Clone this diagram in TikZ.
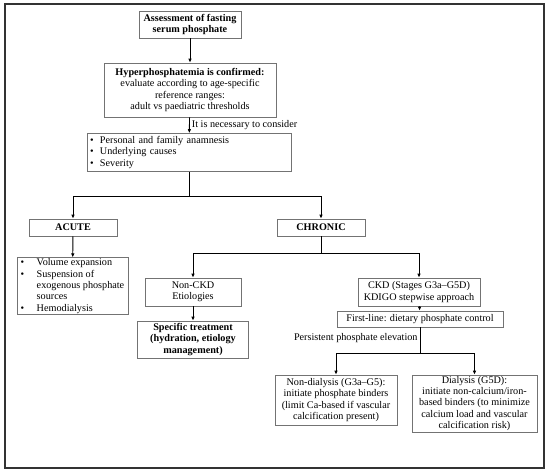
\documentclass[tikz,border=0pt]{standalone}
\usepackage{fontspec}
\setmainfont{Liberation Serif}
\usetikzlibrary{arrows.meta}
\tikzset{
  box/.style={draw=black!55, line width=0.6pt, align=center, inner sep=1pt,
    font=\fontsize{10.2}{11.3}\selectfont},
  flow/.style={line width=0.9pt, -{Latex[length=4pt,width=3.5pt]}},
  link/.style={line width=0.9pt},
  note/.style={font=\fontsize{10.2}{11.3}\selectfont, inner sep=2pt},
}
\newcommand{\itm}{\makebox[10pt][l]{\textbullet}}
\begin{document}
\begin{tikzpicture}[x=1pt, y=-1pt]
\useasboundingbox (0,0) rectangle (550,475);
\draw[line width=1.2pt, black!80] (5,4) rectangle (544,468);
% main column
\node[box, minimum width=102pt, minimum height=27pt] (assess) at (190,24.5) {\textbf{Assessment of fasting}\\\textbf{serum phosphate}};
\node[box, minimum width=172pt, minimum height=54pt] (confirm) at (190,90) {\textbf{Hyperphosphatemia is confirmed:}\\evaluate according to age-specific\\reference ranges:\\adult vs paediatric thresholds};
\node[box, align=left, text width=198pt, inner sep=3pt, minimum height=31pt] (consider) at (189,152.5) {\itm Personal and family anamnesis\\\itm Underlying causes\\\itm Severity};
\draw[flow] (assess) -- (confirm);
\draw[flow] (confirm) -- node[note, right] {It is necessary to consider} (consider);
% acute / chronic
\node[box, minimum width=88pt, minimum height=17pt] (acute) at (73,227.5) {\textbf{ACUTE}};
\node[box, minimum width=88pt, minimum height=17pt] (chronic) at (321,227.5) {\textbf{CHRONIC}};
\coordinate (split) at (189,196);
\draw[link] (consider) -- (split);
\draw[flow] (split) -| (acute);
\draw[flow] (split) -| (chronic);
\node[box, align=left, minimum width=111pt, minimum height=56pt] (acutelist) at (72.5,286) {\itm\hspace{6pt}Volume expansion\\\itm\hspace{6pt}Suspension of\\\hspace{16pt}exogenous phosphate\\\hspace{16pt}sources\\\itm\hspace{6pt}Hemodialysis};
\draw[flow] (acute) -- (acutelist);
% chronic branches
\node[box, minimum width=96pt, minimum height=28pt] (nonckd) at (193,292) {Non-CKD\\Etiologies};
\node[box, minimum width=122pt, minimum height=28pt] (ckd) at (419,292) {CKD (Stages G3a--G5D)\\KDIGO stepwise approach};
\coordinate (csplit) at (321,253);
\draw[link] (chronic) -- (csplit);
\draw[flow] (csplit) -| (nonckd);
\draw[flow] (csplit) -| (ckd);
\node[box, minimum width=111pt, minimum height=37pt] (specific) at (193,339.5) {\textbf{Specific treatment}\\\textbf{(hydration, etiology}\\\textbf{management)}};
\draw[flow] (nonckd) -- (specific);
\node[box, minimum width=166pt, minimum height=16pt] (firstline) at (420,319) {First-line: dietary phosphate control};
\draw[flow] (ckd) -- (firstline);
% binders
\node[box, minimum width=122pt, minimum height=50pt] (nondial) at (336,400) {Non-dialysis (G3a--G5):\\initiate phosphate binders\\(limit Ca-based if vascular\\calcification present)};
\node[box, minimum width=125pt, minimum height=57pt] (dial) at (474.5,403.5) {Dialysis (G5D):\\initiate non-calcium/iron-\\based binders (to minimize\\calcium load and vascular\\calcification risk)};
\coordinate (bsplit) at (420,353);
\draw[link] (firstline) -- node[note, left, pos=0.4] {Persistent phosphate elevation} (bsplit);
\draw[flow] (bsplit) -| (nondial);
\draw[flow] (bsplit) -| (dial);
\end{tikzpicture}
\end{document}
